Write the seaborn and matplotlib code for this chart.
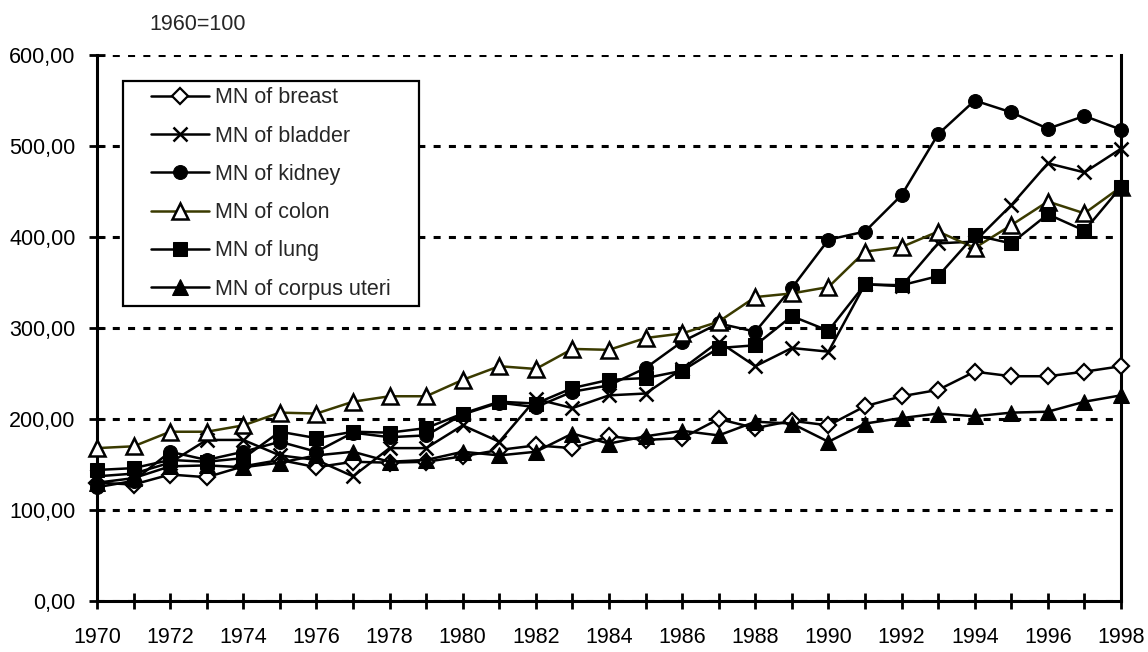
import numpy as np
import pandas as pd
import matplotlib
matplotlib.use('Agg')
import matplotlib.pyplot as plt
from matplotlib.patches import Rectangle
import seaborn as sns

# index values, 1960=100
years = list(range(1970, 1999))

breast = [130, 128, 139, 136, 148, 155, 147, 153, 152, 153,
          159, 166, 171, 168, 181, 177, 179, 200, 190, 198,
          193, 214, 225, 232, 252, 247, 247, 252, 258]
bladder = [137, 140, 152, 177, 177, 160, 155, 137, 168, 168,
           193, 175, 222, 212, 226, 228, 255, 285, 258, 278,
           274, 348, 346, 393, 395, 435, 481, 471, 497]
kidney = [125, 132, 164, 155, 164, 175, 164, 185, 180, 182,
          205, 218, 213, 230, 237, 256, 285, 305, 296, 344,
          397, 406, 446, 513, 550, 537, 519, 533, 518]
colon = [168, 170, 186, 186, 193, 207, 206, 219, 225, 225,
         243, 258, 255, 277, 276, 289, 294, 307, 334, 338,
         345, 384, 389, 406, 388, 413, 439, 426, 455]
lung = [144, 146, 155, 153, 157, 186, 179, 186, 185, 190,
        206, 219, 217, 234, 243, 245, 253, 278, 281, 313,
        297, 348, 347, 357, 402, 393, 425, 407, 455]
uteri = [130, 135, 148, 149, 147, 152, 160, 164, 153, 155,
         164, 160, 164, 184, 173, 181, 187, 182, 197, 195,
         175, 195, 201, 206, 203, 207, 208, 219, 226]

labels = ['MN of breast', 'MN of bladder', 'MN of kidney',
          'MN of colon', 'MN of lung', 'MN of corpus uteri']
series = [breast, bladder, kidney, colon, lung, uteri]

sns.set_style('white')
plt.rcParams['font.family'] = ['Liberation Sans', 'DejaVu Sans']
FS = 15.5

fig = plt.figure(figsize=(11.48, 6.52), dpi=100)
ax = fig.add_axes([97/1148, 1 - 601/652, 1024/1148, 546/652])

# marker styles per series
styles = [
    dict(marker='D', markersize=8, markerfacecolor='white', markeredgecolor='black', markeredgewidth=1.6, color='black'),
    dict(marker='x', markersize=10, markeredgecolor='black', markeredgewidth=1.8, color='black'),
    dict(marker='o', markersize=10, markerfacecolor='black', markeredgecolor='black', color='black'),
    dict(marker='^', markersize=11, markerfacecolor='white', markeredgecolor='black', markeredgewidth=1.8, color='#3a3a00'),
    dict(marker='s', markersize=9.5, markerfacecolor='black', markeredgecolor='black', color='black'),
    dict(marker='^', markersize=11, markerfacecolor='black', markeredgecolor='black', color='black'),
]

for vals, lab, st in zip(series, labels, styles):
    sns.lineplot(x=years, y=vals, ax=ax, label=lab, linewidth=1.8,
                 clip_on=False, zorder=3, **st)

ax.set_xlim(1970, 1998)
ax.set_ylim(0, 600)

ax.set_xticks(years)
ax.set_xticklabels([str(y) if y % 2 == 0 else '' for y in years])
yt = [0, 100, 200, 300, 400, 500, 600]
ax.set_yticks(yt)
ax.set_yticklabels([f"{v:.2f}".replace('.', ',') for v in yt])

ax.tick_params(axis='both', direction='inout', length=12, width=2, colors='black',
               labelsize=FS)
ax.tick_params(axis='x', pad=13, bottom=True)
ax.tick_params(axis='y', pad=9.5, left=True)

ax.yaxis.grid(True, linestyle=(0, (2.3, 2.7)), color='black', linewidth=2.2)
ax.xaxis.grid(False)
ax.set_axisbelow(True)

ax.spines['top'].set_visible(False)
for s in ['left', 'bottom', 'right']:
    ax.spines[s].set_color('black')
    ax.spines[s].set_linewidth(2.2)

ax.set_xlabel('')
ax.set_ylabel('')

ax.text((198 - 97) / 1024, (601 - 25) / 546, '1960=100', transform=ax.transAxes,
        ha='center', va='center', fontsize=FS)

leg = ax.legend(loc='upper left', bbox_to_anchor=((145 - 97) / 1024, (601 - 81) / 546),
                frameon=False, fontsize=FS, handlelength=2.65, handletextpad=0.3,
                labelspacing=0.8, borderpad=0.3, borderaxespad=0)
leg.set_zorder(6)

# legend box drawn separately, wider than the text block like the original
fig.canvas.draw()
bb = leg.get_window_extent(fig.canvas.get_renderer()).transformed(fig.transFigure.inverted())
padx = 22 / 1148
ax.add_patch(Rectangle((bb.x0 - padx, bb.y0), bb.width + 2 * padx, bb.height,
                       transform=fig.transFigure, facecolor='white',
                       edgecolor='black', linewidth=1.6, zorder=5, clip_on=False))

fig.savefig('out.png', dpi=100)
